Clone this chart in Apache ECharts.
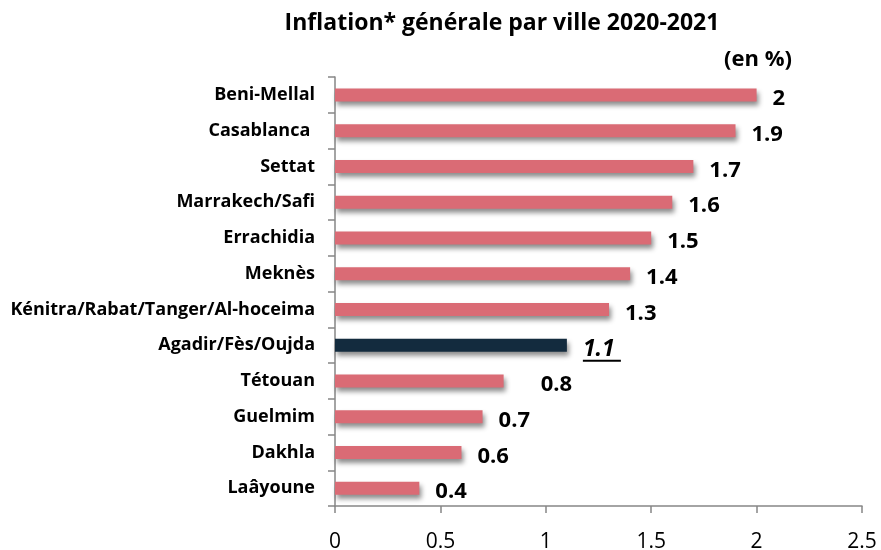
<!DOCTYPE html>
<html>
<head>
<meta charset="utf-8">
<script src="https://cdn.jsdelivr.net/npm/echarts@6/dist/echarts.min.js"></script>
<style>
  html, body { margin: 0; padding: 0; background: #fff; }
  #grafico { width: 881px; height: 550px; }
</style>
</head>
<body>
<div id="grafico"></div>
<script>
// Dados
const villes = ['Beni-Mellal', 'Casablanca ', 'Settat', 'Marrakech/Safi', 'Errachidia', 'Meknès',
    'Kénitra/Rabat/Tanger/Al-hoceima', 'Agadir/Fès/Oujda', 'Tétouan', 'Guelmim', 'Dakhla', 'Laâyoune'];
const inflation = [2, 1.9, 1.7, 1.6, 1.5, 1.4, 1.3, 1.1, 0.8, 0.7, 0.6, 0.4];
const villeNationale = 'Agadir/Fès/Oujda';
const ticksX = [0, 0.5, 1, 1.5, 2, 2.5];

const police = '"Open Sans", Lato, sans-serif';
const rose = '#DA6B75';
const marine = '#132B3E';

var chartDom = document.getElementById('grafico');
var myChart = echarts.init(chartDom);

var option = {
    animation: false,
    title: [
        {
            text: 'Inflation* générale par ville 2020-2021',
            left: 497,
            top: 7,
            textAlign: 'center',
            textStyle: { fontFamily: police, fontWeight: 'bold', fontSize: 23, color: '#000' }
        },
        {
            text: '(en %)',
            left: 719,
            top: 44,
            textStyle: { fontFamily: police, fontWeight: 'bold', fontSize: 22, color: '#000' }
        }
    ],
    grid: {
        left: 335,
        right: 19,
        top: 77,
        bottom: 44,
        outerBoundsMode: 'none'
    },
    xAxis: {
        type: 'value',
        min: ticksX[0],
        max: ticksX[ticksX.length - 1],
        interval: 0.5,
        splitLine: { show: false },
        axisLine: { show: true, lineStyle: { color: '#868686', width: 1.5 } },
        axisTick: { show: true, length: 7, lineStyle: { color: '#868686', width: 1.5 } },
        axisLabel: { fontFamily: police, fontSize: 21, color: '#000', margin: 26 }
    },
    yAxis: {
        type: 'category',
        inverse: true,
        data: villes,
        axisLine: { lineStyle: { color: '#868686', width: 1.5 } },
        axisTick: { show: true, length: 7, lineStyle: { color: '#868686', width: 1.5 } },
        axisLabel: { fontFamily: police, fontWeight: 'bold', fontSize: 18, color: '#000', margin: 20 }
    },
    series: [
        {
            type: 'bar',
            barWidth: 13,
            data: inflation.map((v, i) => {
                const item = { value: v };
                if (villes[i] === villeNationale) {
                    item.itemStyle = { color: marine };
                    // valeur nationale : italique souligné
                    item.label = {
                        formatter: '{v|{c}}\n{u| }',
                        offset: [0, 5],
                        rich: {
                            v: { fontFamily: police, fontWeight: 'bold', fontStyle: 'italic', fontSize: 23, color: '#000', lineHeight: 21 },
                            u: { width: 38, height: 2, lineHeight: 2, fontSize: 1, backgroundColor: '#000' }
                        }
                    };
                }
                if (v === 0.8) {
                    item.label = { distance: 37 };
                }
                return item;
            }),
            itemStyle: {
                color: rose,
                shadowColor: 'rgba(0,0,0,0.45)',
                shadowBlur: 5,
                shadowOffsetX: 2,
                shadowOffsetY: 4
            },
            label: {
                show: true,
                position: 'right',
                distance: 16,
                offset: [0, 4],
                fontFamily: police,
                fontWeight: 'bold',
                fontSize: 22,
                color: '#000'
            }
        }
    ]
};

option && myChart.setOption(option);
</script>
</body>
</html>
